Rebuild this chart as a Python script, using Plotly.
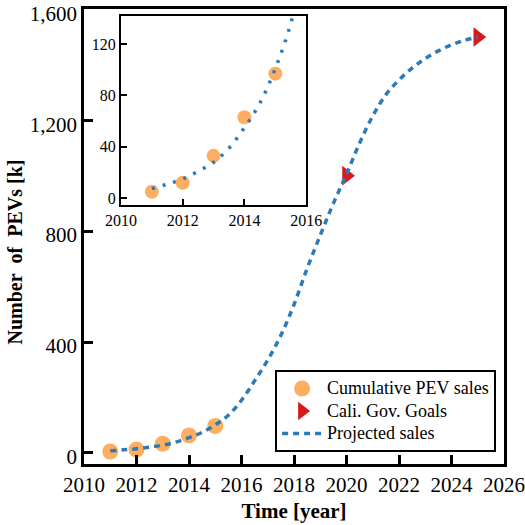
import plotly.graph_objects as go

# ---- data ----
sales_years = [2011, 2012, 2013, 2014, 2015]
sales_values = [5, 12, 33, 63, 97]

goal_years = [2020, 2025]
goal_values = [1000, 1500]

proj_years = [2011, 2011.5, 2012, 2012.5, 2013, 2013.5, 2014, 2014.5, 2015, 2015.5,
              2016, 2016.5, 2017, 2017.5, 2018, 2018.5, 2019, 2019.5, 2020, 2020.5,
              2021, 2021.5, 2022, 2022.5, 2023, 2023.5, 2024, 2024.5, 2025]
proj_values = [7.5, 11, 15, 21, 28, 39, 55, 74, 101, 136,
               190, 260, 335, 424, 535, 665, 785, 900, 1005, 1118,
               1215, 1292, 1345, 1388, 1422, 1450, 1472, 1488, 1500]

main_xticks = [2010, 2012, 2014, 2016, 2018, 2020, 2022, 2024, 2026]
main_yticks = [0, 400, 800, 1200, 1600]
inset_xticks = [2010, 2012, 2014, 2016]
inset_yticks = [0, 40, 80, 120]

series_names = ["Cumulative PEV sales", "Cali. Gov. Goals", "Projected sales"]

ORANGE = "#fdae61"
RED = "#d7191c"
BLUE = "#2c7bb6"
FONT = "Liberation Serif, Times New Roman, Times, serif"


def leg(name):
    return '<span style="font-size:18px">' + name + '</span>'


fig = go.Figure()

# main traces
fig.add_trace(go.Scatter(x=sales_years, y=sales_values, mode="markers",
                         name=leg(series_names[0]),
                         marker=dict(color=ORANGE, size=16, symbol="circle"),
                         xaxis="x", yaxis="y"))
fig.add_trace(go.Scatter(x=goal_years, y=goal_values, mode="markers",
                         name=leg(series_names[1]),
                         marker=dict(color=RED, size=17, symbol="triangle-right"),
                         cliponaxis=False, xaxis="x", yaxis="y"))
fig.add_trace(go.Scatter(x=proj_years, y=proj_values, mode="lines",
                         name=leg(series_names[2]),
                         line=dict(color=BLUE, width=3.5, dash="6px,5px", shape="spline"),
                         xaxis="x", yaxis="y"))

# inset traces
fig.add_trace(go.Scatter(x=sales_years, y=sales_values, mode="markers",
                         showlegend=False,
                         marker=dict(color=ORANGE, size=14, symbol="circle"),
                         xaxis="x2", yaxis="y2"))
fig.add_trace(go.Scatter(x=proj_years, y=proj_values, mode="lines",
                         showlegend=False,
                         line=dict(color=BLUE, width=3.5, dash="3px,8px", shape="spline"),
                         xaxis="x2", yaxis="y2"))

axis_common = dict(showline=True, linecolor="black", mirror=True, showgrid=False,
                   zeroline=False, ticks="inside", tickcolor="black",
                   ticklabeloverflow="allow", automargin=False)

fig.update_layout(
    width=525, height=525,
    margin=dict(l=84, r=21, t=9, b=61, autoexpand=False),
    paper_bgcolor="white", plot_bgcolor="white",
    font=dict(family=FONT, color="black", size=21),
    xaxis=dict(domain=[0, 1], range=[2010, 2026], tickvals=main_xticks,
               linewidth=2.5, ticklen=9, tickwidth=2.5,
               tickfont=dict(size=21, family=FONT),
               title=dict(text="<b>Time [year]</b>", font=dict(size=21, family=FONT), standoff=8),
               **axis_common),
    yaxis=dict(domain=[0, 1], range=[-40, 1601], tickvals=main_yticks, tickformat=",d",
               linewidth=2.5, ticklen=9, tickwidth=2.5, ticklabelshift=4,
               tickfont=dict(size=21, family=FONT),
               **axis_common),
    xaxis2=dict(domain=[0.088, 0.529], anchor="y2", range=[2010, 2016], tickvals=inset_xticks,
                linewidth=2.2, ticklen=6, tickwidth=2,
                tickfont=dict(size=16, family=FONT), **axis_common),
    yaxis2=dict(domain=[0.570, 0.985], anchor="x2", range=[-5, 142], tickvals=inset_yticks,
                linewidth=2.2, ticklen=6, tickwidth=2,
                tickfont=dict(size=16, family=FONT), **axis_common),
    legend=dict(x=0.455, y=0.206, xanchor="left", yanchor="top",
                bgcolor="white", bordercolor="black", borderwidth=2,
                font=dict(size=15, family=FONT), tracegroupgap=0, itemwidth=40),
    showlegend=True,
    annotations=[dict(text="<b>Number\u00a0 of\u00a0 PEVs [k]</b>", textangle=-90,
                      xref="paper", yref="paper", x=-0.164, y=0.465,
                      xanchor="center", yanchor="middle", showarrow=False,
                      font=dict(size=20, family=FONT))],
)

fig.write_html("out.html")
